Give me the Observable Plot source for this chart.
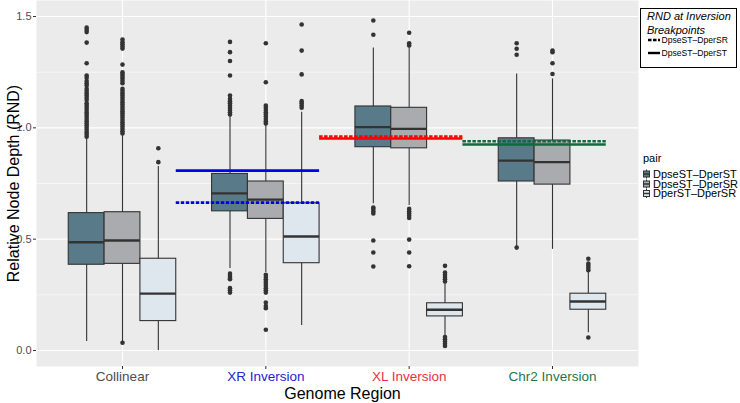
<!DOCTYPE html>
<html><head><meta charset="utf-8">
<script src="https://cdn.jsdelivr.net/npm/d3@7"></script>
<script src="https://cdn.jsdelivr.net/npm/@observablehq/plot@0.6"></script>
<style>
body{margin:0;background:#fff;font-family:"Liberation Sans",Arial,sans-serif;}
#chart{width:740px;height:403px;}
</style></head><body><div id="chart"></div>
<script>
const regions = ["Collinear", "XR Inversion", "XL Inversion", "Chr2 Inversion"];
const regionColors = ["#4d4d4d", "#2424d4", "#e3343c", "#1d7847"];
const pairs = ["DpseST\u2013DperST", "DpseST\u2013DperSR", "DperST\u2013DperSR"];
const pairFills = ["#587a89", "#aaabae", "#dfe7ee"];

// [region][pair]
const whiskerLow  = [[0.04, 0.035, 0.0], [0.368, 0.35, 0.112], [0.659, 0.651, 0.064], [0.465, 0.454, 0.08]];
const q1          = [[0.385, 0.389, 0.132], [0.625, 0.591, 0.392], [0.913, 0.908, 0.153], [0.759, 0.745, 0.183]];
const median      = [[0.486, 0.494, 0.255], [0.706, 0.678, 0.512], [1.003, 0.995, 0.183], [0.853, 0.846, 0.22]];
const q3          = [[0.617, 0.621, 0.412], [0.793, 0.759, 0.661], [1.096, 1.09, 0.212], [0.953, 0.943, 0.255]];
const whiskerHigh = [[0.953, 0.965, 0.826], [1.055, 1.01, 1.07], [1.359, 1.362, 0.30], [1.242, 1.22, 0.352]];

const outliers = [
  [
    [0.96,0.97,0.98,0.99,1.0,1.01,1.02,1.03,1.04,1.05,1.06,1.07,1.08,1.09,1.10,1.11,1.125,1.135,1.145,1.155,1.165,1.175,1.19,1.20,1.21,1.225,1.235,1.29,1.383,1.43,1.44,1.45],
    [0.975,0.985,0.995,1.005,1.015,1.025,1.035,1.045,1.055,1.065,1.075,1.085,1.095,1.105,1.115,1.125,1.135,1.145,1.155,1.165,1.175,1.20,1.21,1.22,1.23,1.24,1.25,1.284,1.356,1.365,1.375,1.385,1.397,0.035],
    [0.846,0.908]
  ],
  [
    [1.06,1.07,1.08,1.09,1.10,1.11,1.12,1.13,1.145,1.235,1.30,1.34,1.386,0.345,0.335,0.325,0.32,0.28,0.27,0.26],
    [1.02,1.03,1.04,1.05,1.06,1.07,1.08,1.09,1.10,1.205,1.38,0.34,0.33,0.32,0.31,0.30,0.29,0.28,0.27,0.26,0.215,0.20,0.19,0.093],
    [1.09,1.10,1.11,1.12,1.24,1.347,1.464]
  ],
  [
    [1.418,1.482,0.642,0.635,0.625,0.615,0.494,0.44,0.377],
    [1.37,1.38,1.427,0.636,0.625,0.615,0.605,0.595,0.498,0.44,0.378],
    [0.31,0.32,0.33,0.34,0.35,0.38,0.06,0.05,0.04,0.03,0.02]
  ],
  [
    [1.328,1.355,1.38,0.462],
    [1.242,1.29,1.34,1.347],
    [0.36,0.37,0.38,0.39,0.412,0.058]
  ]
];

const breakRegions = ["XR Inversion", "XL Inversion", "Chr2 Inversion"];
const breakSTvsST = [0.808, 0.952, 0.925];   // DpseST–DperST (solid)
const breakSTvsSR = [0.664, 0.961, 0.940];   // DpseST–DperSR (dashed)
const breakColors = ["#0000ee", "#ff0000", "#0d6b3e"];

const yMajor = [0, 0.5, 1, 1.5];
const yMinor = [0.25, 0.75, 1.25];

// build tables
const boxes = [];
const pts = [];
regions.forEach((reg, r) => {
  pairs.forEach((p, j) => {
    const xc = r + 1 + (j - 1) * 0.25;
    boxes.push({xc, x1: xc - 0.125, x2: xc + 0.125, lo: whiskerLow[r][j], q1: q1[r][j], med: median[r][j], q3: q3[r][j], hi: whiskerHigh[r][j], fill: pairFills[j]});
    outliers[r][j].forEach(v => pts.push({x: xc, y: v}));
  });
});
const segs = [];
breakRegions.forEach((reg, i) => {
  const c = regions.indexOf(reg) + 1;
  segs.push({x1: c - 0.625, x2: c + 0.375, y: breakSTvsST[i], color: breakColors[i], type: "solid"});
  segs.push({x1: c - 0.625, x2: c + 0.375, y: breakSTvsSR[i], color: breakColors[i], type: "dashed"});
});

const plot = Plot.plot({
  width: 740, height: 403,
  marginLeft: 36, marginRight: 102, marginTop: 0, marginBottom: 37,
  x: {type: "linear", domain: [0.4, 4.6]},
  y: {domain: [-0.072, 1.572]},
  color: {type: "identity"},
  style: {fontFamily: "Liberation Sans, Arial, sans-serif", background: "white", overflow: "visible"},
  marks: [
    Plot.frame({fill: "#ebebeb", stroke: "none"}),
    Plot.ruleY(yMinor, {stroke: "white", strokeWidth: 0.55}),
    Plot.ruleY(yMajor, {stroke: "white", strokeWidth: 1.1}),
    Plot.ruleX([1, 2, 3, 4], {stroke: "white", strokeWidth: 1.1}),
    Plot.axisY({ticks: yMajor, tickFormat: d => d.toFixed(1), tickSize: 3, tickPadding: 2, fontSize: 11, fill: "#4d4d4d", stroke: "#333", label: null}),
    Plot.axisX({ticks: [1, 2, 3, 4], tickFormat: () => "", tickSize: 3, stroke: "#333", label: null}),
    Plot.text(regions, {x: (d, i) => i + 1, text: d => d, frameAnchor: "bottom", dy: 10.5, fill: (d, i) => regionColors[i], fontSize: 13.5, lineAnchor: "middle", textAnchor: "middle"}),
    Plot.text(["Genome Region"], {text: d => d, frameAnchor: "bottom", dy: 27, dx: 5, fontSize: 16, fill: "black", lineAnchor: "middle", textAnchor: "middle"}),
    Plot.text(["Relative Node Depth (RND)"], {text: d => d, frameAnchor: "left", dx: -23, rotate: -90, fontSize: 16, fill: "black", lineAnchor: "middle", textAnchor: "middle"}),
    Plot.ruleX(boxes, {x: "xc", y1: "lo", y2: "hi", stroke: "#333", strokeWidth: 1.1}),
    Plot.rect(boxes, {x1: "x1", x2: "x2", y1: "q1", y2: "q3", fill: "fill", stroke: "#333", strokeWidth: 1.1}),
    Plot.ruleY(boxes, {y: "med", x1: "x1", x2: "x2", stroke: "#333", strokeWidth: 2.3}),
    Plot.dot(pts, {x: "x", y: "y", r: 2.3, fill: "#333", stroke: "none"}),
    Plot.ruleY(segs.filter(d => d.type === "solid"), {y: "y", x1: "x1", x2: "x2", stroke: "color", strokeWidth: 2.6}),
    Plot.ruleY(segs.filter(d => d.type === "dashed"), {y: "y", x1: "x1", x2: "x2", stroke: "color", strokeWidth: 2.6, strokeDasharray: "3.5,1.5"})
  ]
});
document.getElementById("chart").appendChild(plot);

// legends
const svg = d3.select(plot);
const lg1 = svg.append("g").attr("font-family", "Liberation Sans, Arial, sans-serif").attr("text-anchor", "start");
lg1.append("rect").attr("x", 640.5).attr("y", 8.5).attr("width", 96).attr("height", 59).attr("fill", "white").attr("stroke", "black").attr("stroke-width", 1);
lg1.append("text").attr("x", 647).attr("y", 16).attr("dy", "0.35em").attr("font-size", 11).attr("font-style", "italic").attr("text-anchor", "start").text("RND at Inversion");
lg1.append("text").attr("x", 647).attr("y", 30).attr("dy", "0.35em").attr("font-size", 11).attr("font-style", "italic").attr("text-anchor", "start").text("Breakpoints");
const keys1 = [{label: pairs[1], dash: "3.5,1.5", y: 40}, {label: pairs[0], dash: null, y: 53}];
keys1.forEach(k => {
  lg1.append("line").attr("x1", 648).attr("x2", 660).attr("y1", k.y).attr("y2", k.y).attr("stroke", "black").attr("stroke-width", 2.4).attr("stroke-dasharray", k.dash);
  lg1.append("text").attr("x", 661.5).attr("y", k.y).attr("dy", "0.35em").attr("font-size", 8.6).attr("text-anchor", "start").text(k.label);
});

const lg2 = svg.append("g").attr("font-family", "Liberation Sans, Arial, sans-serif").attr("text-anchor", "start");
lg2.append("text").attr("x", 643).attr("y", 158.5).attr("dy", "0.35em").attr("font-size", 11).attr("text-anchor", "start").text("pair");
const rowY = [174, 184, 193.5];
pairs.forEach((p, j) => {
  const y = rowY[j];
  lg2.append("line").attr("x1", 646.5).attr("x2", 646.5).attr("y1", y - 4.5).attr("y2", y + 4.5).attr("stroke", "#333").attr("stroke-width", 1);
  lg2.append("rect").attr("x", 643.5).attr("y", y - 3).attr("width", 6).attr("height", 6).attr("fill", pairFills[j]).attr("stroke", "#333").attr("stroke-width", 1);
  lg2.append("line").attr("x1", 643.5).attr("x2", 649.5).attr("y1", y).attr("y2", y).attr("stroke", "#333").attr("stroke-width", 1.5);
  lg2.append("text").attr("x", 653).attr("y", y).attr("dy", "0.35em").attr("font-size", 11).attr("text-anchor", "start").text(p);
});
</script></body></html>
